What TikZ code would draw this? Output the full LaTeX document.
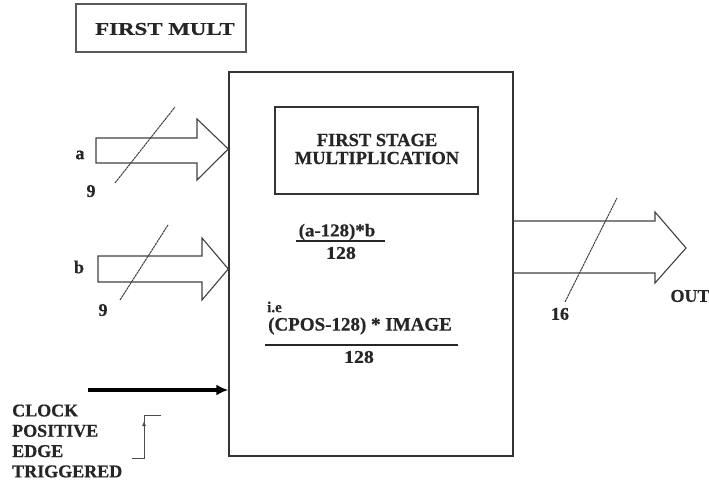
\documentclass[tikz,border=0pt]{standalone}
\usepackage{fontspec}
\setmainfont{Liberation Serif}[BoldFeatures={FakeBold=0.6}]
\usetikzlibrary{arrows.meta}
\begin{document}
\begin{tikzpicture}[x=1pt,y=-1pt,
  lbl/.style={font=\fontsize{18}{20}\selectfont\bfseries, text=black!85, inner sep=0pt},
  frame/.style={draw=black!80, line width=1.4pt, inner sep=0pt},
  bus/.style={draw=black!75, line width=1.1pt, line join=miter},
  slash/.style={draw=black!75, line width=1pt, dash pattern=on 2.5pt off 0.6pt},
  fracbar/.style={draw=black!85, line width=1.4pt},
  thin/.style={draw=black!70, line width=0.9pt}]
\useasboundingbox (0,0) rectangle (709,481);

% title box
\node[frame, draw=black!65, minimum width=170pt, minimum height=48pt] (title) at (161,28) {};
\node[lbl] (titletext) at (165,29) {\scalebox{1.27}[1]{FIRST MULT}};

% main block
\node[frame, minimum width=284pt, minimum height=384pt] (main) at (371,264) {};

% inner label box
\node[frame, minimum width=203pt, minimum height=87pt] (stage) at (376.5,150.5) {};
\node[lbl, align=center, font=\fontsize{18.5}{18}\selectfont\bfseries] (stagetext) at (377,149) {FIRST STAGE\\MULTIPLICATION};

% first fraction
\node[lbl] (num1) at (337,232) {\scalebox{1.05}[1]{(a-128)*b}};
\coordinate (bar1l) at (296,241);
\coordinate (bar1r) at (385,241);
\draw[fracbar] (bar1l) -- (bar1r);
\node[lbl] (den1) at (341,253) {\scalebox{1.1}[1]{128}};

% second fraction
\node[lbl, anchor=west, font=\fontsize{15}{16}\selectfont\bfseries] (ie) at (267,307) {i.e};
\node[lbl, font=\fontsize{19}{20}\selectfont\bfseries] (num2) at (360,326) {(CPOS-128) * IMAGE};
\coordinate (bar2l) at (265,345);
\coordinate (bar2r) at (458,345);
\draw[fracbar] (bar2l) -- (bar2r);
\node[lbl] (den2) at (359,357) {\scalebox{1.1}[1]{128}};

% input bus a
\coordinate (atip) at (main.west |- 0,149);
\draw[bus] (96,138) -- (197,138) -- (197,119) -- (atip) -- (197,180) -- (197,163) -- (96,163) -- cycle;
\coordinate (asl1) at (115,183);
\coordinate (asl2) at (175,107);
\draw[slash] (asl1) -- (asl2);
\node[lbl] (alabel) at (80,155) {a};
\node[lbl] (awidth) at (91,191) {9};

% input bus b
\coordinate (btip) at (main.west |- 0,269);
\draw[bus] (98,256) -- (202,256) -- (202,238) -- (btip) -- (202,300) -- (202,282) -- (98,282) -- cycle;
\coordinate (bsl1) at (120,300);
\coordinate (bsl2) at (168,225);
\draw[slash] (bsl1) -- (bsl2);
\node[lbl] (blabel) at (79,267) {b};
\node[lbl] (bwidth) at (103,310) {9};

% output bus
\coordinate (obase) at (main.east |- 0,221);
\coordinate (obase2) at (main.east |- 0,273);
\draw[bus] (obase) -- (655,221) -- (655,212) -- (686,248) -- (655,283) -- (655,273) -- (obase2);
\coordinate (osl1) at (565,302);
\coordinate (osl2) at (617,198);
\draw[slash] (osl1) -- (osl2);
\node[lbl] (owidth) at (560,314) {16};
\node[lbl] (olabel) at (690,296) {OUT};

% clock input
\coordinate (clkstart) at (88,390);
\draw[draw=black, line width=3.5pt, -{Latex[length=12pt,width=11pt]}] (clkstart) -- (main.west |- clkstart);
\node[lbl, anchor=west, align=left, font=\fontsize{18}{20.3}\selectfont\bfseries] (clktext) at (12,441)
  {CLOCK\\POSITIVE\\EDGE\\TRIGGERED};

% rising edge symbol
\coordinate (p0) at (132,458);
\coordinate (p1) at (144,458);
\coordinate (p2) at (144,415);
\coordinate (p3) at (161,415);
\draw[thin] (p0) -- (p1) -- (p2) -- (p3);
\coordinate (pm) at (144,428);
\coordinate (pa) at (144,421);
\draw[thin, -{Latex[length=5pt,width=4pt]}] (pm) -- (pa);
\end{tikzpicture}
\end{document}
